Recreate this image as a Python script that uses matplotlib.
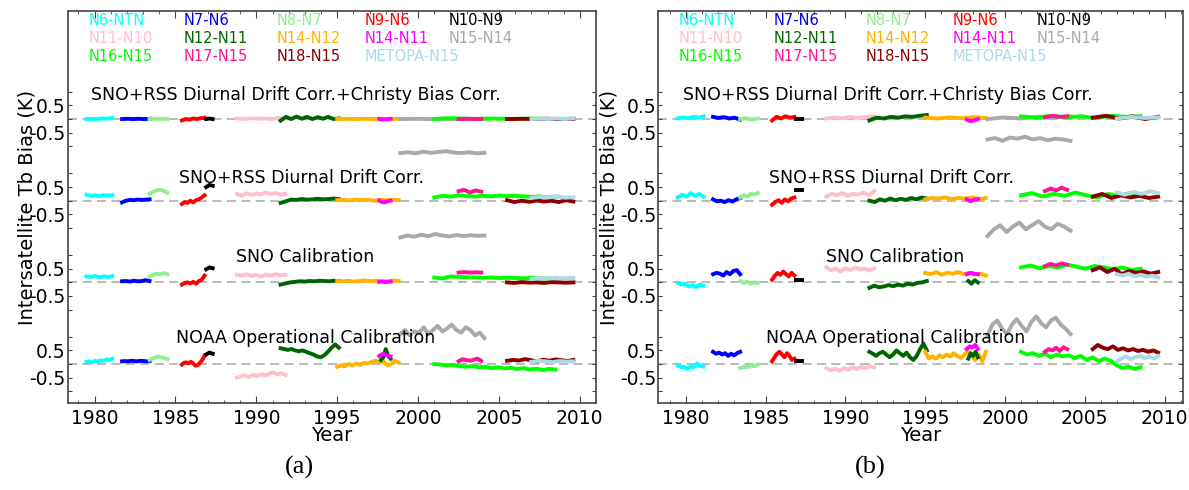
import numpy as np
import matplotlib
matplotlib.use("Agg")
import matplotlib.pyplot as plt
from matplotlib.ticker import MultipleLocator, FixedLocator

plt.rcParams['font.family'] = ['DejaVu Sans']

# series names / colours in legend (and drawing) order
NAMES = ["N6-NTN", "N7-N6", "N8-N7", "N9-N6", "N10-N9",
         "N11-N10", "N12-N11", "N14-N12", "N14-N11", "N15-N14",
         "N16-N15", "N17-N15", "N18-N15", "METOPA-N15"]
COLORS = ["#00FFFF", "#0000FF", "#90EE90", "#FF0000", "#000000",
          "#FFC0CB", "#006400", "#FFB300", "#FF00FF", "#A9A9A9",
          "#00FF00", "#FF1493", "#8B0000", "#ADD8E6"]
# overlap period of each pair (year start, year end)
SPANS = [(1979.5, 1981.1), (1981.7, 1983.4), (1983.4, 1984.5), (1985.4, 1986.8),
         (1986.9, 1987.3), (1988.8, 1991.8), (1991.5, 1995.1), (1995.0, 1998.8),
         (1997.6, 1998.3), (1998.9, 2004.1), (2001.0, 2008.5), (2002.5, 2003.9),
         (2005.5, 2009.6), (2007.0, 2009.6)]
# second short N12-N11 overlap
DG2_SPAN = (1997.7, 1998.3)

STACK_TITLES = ["NOAA Operational Calibration", "SNO Calibration",
                "SNO+RSS Diurnal Drift Corr.",
                "SNO+RSS Diurnal Drift Corr.+Christy Bias Corr."]
OFFSETS = [0, 3, 6, 9]

# ---------------- panel (a) ----------------
A_NOAA = [
    [0.08, 0.10, 0.07, 0.12, 0.10, 0.14, 0.12, 0.17, 0.15, 0.19],
    [0.10, 0.11, 0.10, 0.12, 0.11, 0.10, 0.12, 0.11, 0.10, 0.11],
    [0.15, 0.20, 0.24, 0.27, 0.25, 0.22, 0.18],
    [-0.02, 0.05, 0.06, 0.03, 0.08, 0.02, -0.06, -0.04, 0.05, 0.15, 0.30],
    [0.35, 0.42, 0.38],
    [-0.50, -0.45, -0.42, -0.47, -0.40, -0.44, -0.38, -0.42, -0.35, -0.30, -0.38, -0.33, -0.40],
    [0.58, 0.55, 0.52, 0.55, 0.50, 0.47, 0.50, 0.45, 0.40, 0.35, 0.28, 0.25, 0.32, 0.45, 0.60, 0.72, 0.60],
    [-0.10, -0.05, -0.08, 0.0, -0.05, 0.02, -0.03, 0.05, 0.02, 0.08, 0.12, 0.05, 0.10, -0.05, 0.0, 0.12, 0.05],
    [0.30, 0.35, 0.38, 0.33, 0.30, 0.28],
    [1.10, 1.25, 1.05, 1.20, 1.15, 1.35, 1.10, 1.25, 1.40, 1.20, 1.30, 1.45, 1.25, 1.15, 1.35, 1.25, 1.05, 1.15, 0.95],
    [0.0, -0.02, -0.05, -0.03, -0.08, -0.10, -0.08, -0.12, -0.10, -0.15, -0.12, -0.16, -0.14, -0.18, -0.15, -0.20, -0.17, -0.22, -0.18, -0.20],
    [0.10, 0.18, 0.15, 0.12, 0.16, 0.20, 0.12],
    [0.12, 0.15, 0.13, 0.18, 0.14, 0.10, 0.16, 0.12, 0.17, 0.14, 0.11, 0.15],
    [0.08, 0.12, 0.10, 0.07, 0.11, 0.09, 0.10],
]
A_SNO = [
    [0.22, 0.20, 0.24, 0.18, 0.22, 0.20, 0.23],
    [0.04, 0.05, 0.03, 0.06, 0.04, 0.05, 0.08, 0.05],
    [0.22, 0.28, 0.32, 0.30, 0.34, 0.30],
    [-0.08, -0.02, 0.0, -0.04, 0.02, -0.05, 0.05, 0.10, 0.25],
    [0.48, 0.55, 0.52],
    [0.28, 0.25, 0.30, 0.24, 0.27, 0.22, 0.28, 0.25, 0.30, 0.26, 0.28],
    [-0.08, -0.04, 0.0, 0.02, 0.04, 0.03, 0.05, 0.04, 0.06, 0.05, 0.04, 0.06, 0.05],
    [0.05, 0.04, 0.06, 0.03, 0.05, 0.07, 0.04, 0.06, 0.05, 0.04, 0.07, 0.05],
    [0.02, 0.03, 0.01, 0.02, 0.03],
    [1.65, 1.72, 1.68, 1.75, 1.70, 1.78, 1.72, 1.69, 1.74, 1.70, 1.73, 1.71, 1.72],
    [0.18, 0.14, 0.22, 0.20, 0.19, 0.18, 0.17, 0.18, 0.16, 0.17, 0.16, 0.15, 0.16, 0.15, 0.14, 0.15],
    [0.36, 0.38, 0.36, 0.37, 0.36],
    [0.0, -0.02, 0.01, -0.01, 0.0, -0.02, 0.01, 0.0, -0.01, 0.0],
    [0.12, 0.16, 0.14, 0.17, 0.15, 0.16],
]
A_RSS = [
    [0.22, 0.18, 0.20, 0.17, 0.21, 0.19, 0.20],
    [-0.06, 0.0, 0.03, 0.02, 0.04, 0.03, 0.04, 0.05],
    [0.25, 0.32, 0.38, 0.40, 0.36, 0.30],
    [-0.12, -0.05, -0.08, 0.0, -0.06, 0.02, 0.05, 0.12, 0.20],
    [0.50, 0.58, 0.55],
    [0.25, 0.18, 0.27, 0.22, 0.26, 0.24, 0.30, 0.25, 0.28, 0.22, 0.26],
    [-0.08, -0.02, 0.04, 0.03, 0.06, 0.04, 0.05, 0.07, 0.05, 0.06, 0.08, 0.06],
    [0.02, 0.03, 0.01, 0.04, 0.02, 0.03, 0.0, 0.03, 0.02, 0.04, 0.02],
    [0.0, -0.05, -0.06, -0.02, 0.0],
    [1.75, 1.78, 1.74, 1.80, 1.76, 1.79, 1.82, 1.77, 1.75, 1.78, 1.74, 1.76],
    [0.12, 0.18, 0.15, 0.20, 0.17, 0.15, 0.18, 0.16, 0.19, 0.17, 0.18, 0.16, 0.14, 0.16, 0.12, 0.15],
    [0.35, 0.40, 0.30, 0.38, 0.33],
    [0.02, -0.05, 0.0, -0.04, 0.01, -0.03, 0.0, -0.05, 0.02, -0.03],
    [0.10, 0.14, 0.12, 0.16, 0.11, 0.13],
]
A_CHRISTY = [
    [0.0, 0.01, 0.0, 0.02, 0.01, 0.04],
    [0.0, 0.01, 0.0, 0.01, 0.0, 0.01],
    [0.0, 0.01, 0.0, 0.01, 0.0],
    [-0.05, 0.0, -0.02, 0.02, 0.0, 0.03, 0.05],
    [0.0, 0.02, 0.0],
    [0.02, 0.0, 0.03, 0.01, 0.02, 0.0, 0.04, 0.02],
    [-0.06, 0.08, 0.0, 0.09, 0.01, 0.08, 0.0, 0.07, 0.01, 0.08, 0.0, 0.02],
    [0.0, 0.01, 0.0, 0.01, 0.0, 0.01, 0.0, 0.01],
    [0.0, -0.02, 0.0, 0.01],
    [0.0, 0.01, 0.0, 0.01, 0.0, 0.01, 0.0],
    [0.0, 0.03, 0.02, 0.0, 0.02, 0.01, 0.0, 0.02, 0.01, 0.0],
    [0.0, 0.01, 0.0, 0.01],
    [0.0, 0.01, 0.0, 0.01, 0.0, 0.01],
    [0.0, 0.01, 0.0, 0.02, 0.0, 0.03],
]
A_DG2 = [[0.15, 0.25, 0.55, 0.30, 0.20], None, None, None]

# ---------------- panel (b) ----------------
B_NOAA = [
    [-0.05, -0.12, -0.10, -0.18, -0.08, -0.12, 0.02, -0.06, -0.10],
    [0.45, 0.38, 0.42, 0.35, 0.40, 0.30, 0.38, 0.32, 0.40, 0.45],
    [-0.15, -0.10, -0.12, -0.05, -0.08, -0.02],
    [0.10, 0.25, 0.38, 0.45, 0.35, 0.25, 0.40, 0.30, 0.15, 0.20],
    [0.12, 0.12],
    [-0.15, -0.22, -0.18, -0.25, -0.15, -0.20, -0.12, -0.18, -0.10, -0.15, -0.08, -0.12],
    [0.45, 0.38, 0.30, 0.40, 0.45, 0.35, 0.25, 0.35, 0.50, 0.40, 0.30, 0.42, 0.25, 0.15, 0.30, 0.55, 0.75, 0.50],
    [0.45, 0.20, 0.28, 0.20, 0.32, 0.25, 0.35, 0.28, 0.40, 0.30, 0.22, 0.35, 0.45, 0.30, 0.15, 0.35, 0.10, 0.45],
    [0.55, 0.65, 0.60, 0.70, 0.55],
    [1.05, 1.45, 1.60, 1.30, 1.10, 1.45, 1.65, 1.40, 1.20, 1.55, 1.75, 1.50, 1.35, 1.60, 1.70, 1.45, 1.30, 1.10],
    [0.45, 0.35, 0.40, 0.30, 0.38, 0.25, 0.35, 0.28, 0.32, 0.22, 0.30, 0.15, 0.25, 0.10, 0.20, 0.12, -0.05, -0.15, -0.10, -0.18, -0.12],
    [0.45, 0.55, 0.50, 0.60, 0.48, 0.62, 0.55],
    [0.55, 0.70, 0.60, 0.55, 0.65, 0.52, 0.58, 0.50, 0.55, 0.48, 0.52, 0.45, 0.50, 0.42],
    [0.10, 0.20, 0.28, 0.18, 0.25, 0.30, 0.22, 0.28, 0.20, 0.30],
]
B_SNO = [
    [-0.02, -0.08, -0.05, -0.15, -0.10, -0.18, -0.08, -0.12],
    [0.30, 0.35, 0.32, 0.25, 0.38, 0.30, 0.42, 0.45, 0.30],
    [0.05, -0.02, 0.02, -0.05, 0.0, -0.02],
    [0.10, 0.25, 0.35, 0.28, 0.40, 0.30, 0.22, 0.35, 0.25],
    [0.10, 0.10],
    [0.55, 0.45, 0.50, 0.40, 0.52, 0.45, 0.55, 0.48, 0.50, 0.45, 0.52],
    [-0.20, -0.12, -0.18, -0.15, -0.10, -0.14, -0.08, -0.12, -0.05, -0.08, -0.02, 0.0, 0.05],
    [0.35, 0.30, 0.38, 0.28, 0.35, 0.32, 0.38, 0.30, 0.35, 0.28, 0.32, 0.25],
    [0.30, 0.35, 0.32, 0.30],
    [1.70, 1.95, 2.10, 1.85, 2.05, 2.20, 1.95, 2.10, 2.25, 2.05, 1.95, 2.15, 2.05, 1.90],
    [0.55, 0.62, 0.52, 0.60, 0.55, 0.65, 0.58, 0.50, 0.60, 0.55, 0.48, 0.55, 0.45, 0.50],
    [0.60, 0.68, 0.62, 0.70, 0.65],
    [0.45, 0.55, 0.38, 0.50, 0.30, 0.42, 0.35, 0.40, 0.32, 0.38],
    [0.30, 0.25, 0.32, 0.22, 0.28, 0.20, 0.25, 0.18],
]
B_RSS = [
    [0.12, 0.22, 0.15, 0.28, 0.18, 0.25, 0.15],
    [0.05, -0.02, 0.0, -0.05, 0.02, -0.03, 0.05, 0.10],
    [0.12, 0.20, 0.15, 0.25, 0.22, 0.28],
    [-0.15, -0.05, 0.02, -0.08, 0.05, -0.02, 0.08, 0.12],
    [0.40, 0.40],
    [0.15, 0.25, 0.20, 0.28, 0.18, 0.25, 0.22, 0.30, 0.20, 0.35],
    [0.0, -0.05, 0.05, 0.0, 0.08, 0.02, 0.07, 0.03, 0.10, 0.05, 0.12, 0.08],
    [0.05, 0.10, 0.08, 0.12, 0.06, 0.10, 0.08, 0.12, 0.06, 0.10],
    [0.05, -0.02, 0.03, 0.06],
    [2.25, 2.30, 2.20, 2.32, 2.28, 2.35, 2.25, 2.30, 2.22, 2.28, 2.25, 2.20],
    [0.20, 0.28, 0.15, 0.25, 0.18, 0.30, 0.20, 0.12, 0.25, 0.18, 0.28, 0.22],
    [0.35, 0.45, 0.38, 0.48, 0.40],
    [0.15, 0.25, 0.10, 0.20, 0.12, 0.18, 0.10, 0.15],
    [0.30, 0.22, 0.32, 0.25, 0.35, 0.28],
]
B_CHRISTY = [
    [0.02, 0.06, 0.03, 0.08, 0.05, 0.10],
    [0.08, 0.04, 0.07, 0.02, 0.05, -0.02],
    [0.0, 0.03, -0.02, 0.02],
    [-0.05, 0.08, 0.02, 0.10, 0.05, 0.08],
    [0.02, 0.02],
    [0.02, 0.06, 0.03, 0.08, 0.04, 0.07, 0.10],
    [-0.05, 0.05, 0.02, 0.08, 0.05, 0.10, 0.08, 0.12, 0.15],
    [0.05, 0.02, 0.06, 0.03, 0.07, 0.04],
    [-0.02, -0.08, -0.05, 0.0],
    [0.0, 0.06, 0.02, 0.08, 0.05, 0.10],
    [0.10, 0.05, 0.12, 0.06, 0.10, 0.04, 0.12, 0.08, 0.10],
    [0.06, 0.12, 0.08, 0.10],
    [0.05, 0.12, 0.02, 0.10, 0.0, 0.08],
    [0.02, 0.08, 0.04, 0.06],
]
B_DG2 = [[0.20, 0.40, 0.30, 0.45, 0.25], [0.05, -0.05, 0.08, 0.0], None, None]

TITLE_POS = [(1985.05, 0.95), (1988.75, 0.92), (1985.2, 0.85), (1979.8, 0.88)]
LEGEND_X = [0.040, 0.220, 0.396, 0.562, 0.722]
LEGEND_Y = [0.975, 0.930, 0.885]


def draw_panel(ax, stacks, dg2, xlim, ylab_x):
    for off in OFFSETS:
        ax.axhline(off, color="#b4b4b4", ls=(0, (5, 3)), lw=1.3, zorder=1)

    for off, series, extra in zip(OFFSETS, stacks, dg2):
        for i, vals in enumerate(series):
            t = np.linspace(SPANS[i][0], SPANS[i][1], len(vals))
            ax.plot(t, np.array(vals) + off, color=COLORS[i], lw=2.8, zorder=2)
            if i == 7 and extra is not None:
                t2 = np.linspace(DG2_SPAN[0], DG2_SPAN[1], len(extra))
                ax.plot(t2, np.array(extra) + off, color=COLORS[6], lw=2.8, zorder=2)

    for (tx, dy), off, title in zip(TITLE_POS, OFFSETS, STACK_TITLES):
        ax.text(tx, off + dy, title, fontsize=12.5, ha="left", va="center", zorder=3)

    # legend as coloured text, 5 columns x 3 rows
    for k, (name, col) in enumerate(zip(NAMES, COLORS)):
        ax.text(LEGEND_X[k % 5], LEGEND_Y[k // 5], name, color=col, fontsize=10.5,
                transform=ax.transAxes, ha="left", va="center")

    ax.set_xlim(*xlim)
    ax.set_ylim(-1.43, 12.97)
    ax.xaxis.set_major_locator(MultipleLocator(5))
    ax.xaxis.set_minor_locator(MultipleLocator(1))
    yt, yl = [], []
    for off in OFFSETS:
        yt += [off - 1, off - 0.5, off, off + 0.5, off + 1]
        yl += ["", "-0.5", "", "0.5", ""]
    ax.yaxis.set_major_locator(FixedLocator(yt))
    ax.set_yticklabels(yl)

    ax.tick_params(axis="both", which="both", direction="in", top=True, right=True,
                   labelsize=13.5, color="#444444")
    ax.tick_params(axis="x", which="major", length=5, pad=4)
    ax.tick_params(axis="x", which="minor", length=2.5)
    ax.tick_params(axis="y", which="major", length=3, pad=1.5)
    for sp in ax.spines.values():
        sp.set_color("#444444")
        sp.set_linewidth(1.2)

    ax.set_xlabel("Year", fontsize=14)
    ax.xaxis.set_label_coords(0.5, -0.084)
    ax.xaxis.label.set_va("center")
    ax.set_ylabel("Intersatellite Tb Bias (K)", fontsize=14)
    ax.yaxis.set_label_coords(ylab_x, 0.5)
    ax.yaxis.label.set_va("center")


fig = plt.figure(figsize=(11.89, 4.90), dpi=100)
ax_a = fig.add_axes([0.0568, 0.1776, 0.4445, 0.80])
ax_b = fig.add_axes([0.5534, 0.1776, 0.4415, 0.80])

draw_panel(ax_a, [A_NOAA, A_SNO, A_RSS, A_CHRISTY], A_DG2, (1978.33, 2011.0), -0.0766)
draw_panel(ax_b, [B_NOAA, B_SNO, B_RSS, B_CHRISTY], B_DG2, (1978.25, 2011.15), -0.0933)

fig.text(0.252, 0.045, "(a)", fontsize=19, family="Liberation Serif", ha="center", va="center")
fig.text(0.732, 0.045, "(b)", fontsize=19, family="Liberation Serif", ha="center", va="center")

fig.savefig("out.png", dpi=100)
